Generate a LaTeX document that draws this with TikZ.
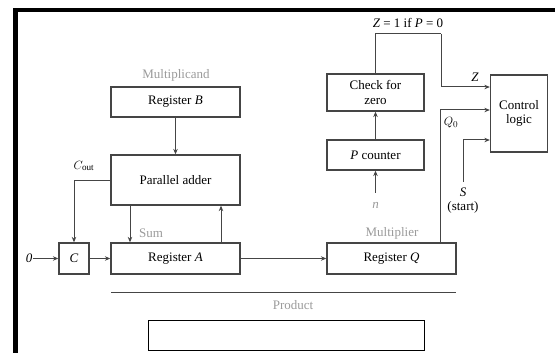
\documentclass[tikz,border=0pt]{standalone}
\usepackage{fontspec}
\setmainfont{Liberation Serif}
\usetikzlibrary{arrows.meta}
\definecolor{linec}{HTML}{454545}
\definecolor{lab}{HTML}{9A9A9A}
\begin{document}
\begin{tikzpicture}[x=1pt,y=-1pt,
  font=\fontsize{13}{14.5}\selectfont,
  box/.style={draw=linec,line width=1.3pt,minimum width=#1,inner sep=0pt,align=center},
  arr/.style={draw=linec,line width=1pt,-{Stealth[length=5.5pt,width=4.5pt]}},
  ln/.style={draw=linec,line width=1pt},
  glab/.style={text=lab,inner sep=1pt}]
\useasboundingbox (0,0) rectangle (555,353);
% frame
\fill[black] (13,8) rectangle (555,12.5);
\fill[black] (13,8) rectangle (17.5,353);
\draw[black,line width=1pt] (148,320) rectangle (424,350);
% boxes
\node[box=129pt,minimum height=30pt] (B) at (175.5,102) {Register \textit{B}};
\node[box=129pt,minimum height=50pt] (adder) at (175.5,180) {Parallel adder};
\node[box=30pt,minimum height=31pt] (C) at (74,258.5) {\textit{C}};
\node[box=129pt,minimum height=31pt] (A) at (175.5,258.5) {Register \textit{A}};
\node[box=129pt,minimum height=31pt] (Q) at (391.5,258.5) {Register \textit{Q}};
\node[box=97pt,minimum height=37pt] (chk) at (375.5,92.5) {Check for\\zero};
\node[box=97pt,minimum height=30pt] (P) at (375.5,155) {\textit{P} counter};
\node[box=57pt,minimum height=77pt] (ctrl) at (519,113.5) {Control\\logic};
% labels
\node[glab] (mcand) at (176,75) {Multiplicand};
\node[glab] (sum) at (151,233) {Sum};
\node[glab] (mplier) at (392,233) {Multiplier};
\node[glab] (prod) at (293,305) {Product};
\node[glab,font=\fontsize{13}{14.5}\selectfont\itshape] (n) at (375.5,205) {n};
\node[inner sep=1pt] (zero) at (29,258.5) {\textit{0}};
\node[inner sep=1pt] (cout) at (84,166) {$C_{\mathrm{out}}$};
\node[inner sep=1pt] (zeq) at (408,23) {\textit{Z} = 1 if \textit{P} = 0};
\node[inner sep=1pt] (zl) at (475,77) {\textit{Z}};
\node[inner sep=1pt] (q0) at (451,123) {$Q_0$};
\node[inner sep=1pt] (s) at (463,192) {\textit{S}};
\node[inner sep=1pt] (start) at (463,207) {(start)};
% coordinates
\coordinate (zc) at (441,34);
\coordinate (s0) at (463,182);
\coordinate (p1) at (111,292);
\coordinate (p2) at (456,292);
% connectors
\draw[arr] (B.south) -- (adder.north);
\draw[arr] (adder.west) -| (C.north);
\draw[arr] (zero.east) -- (C.west);
\draw[arr] (C.east) -- (A.west);
\draw[arr] ([xshift=-45.5pt]adder.south) -- ([xshift=-45.5pt]A.north);
\draw[arr] ([xshift=45.5pt]A.north) -- ([xshift=45.5pt]adder.south);
\draw[arr] (A.east) -- (Q.west);
\draw[arr] (P.north) -- (chk.south);
\draw[arr] ([yshift=8pt]n.north) -- (P.south);
\draw[ln] (chk.north) |- (zc);
\draw[arr] (zc) |- ([yshift=26.5pt]ctrl.west);
\draw[arr] ([xshift=48.5pt]Q.north) |- ([yshift=3.5pt]ctrl.west);
\draw[arr] (s0) |- ([yshift=-26.5pt]ctrl.west);
\draw[ln] (p1) -- (p2);
\end{tikzpicture}
\end{document}
